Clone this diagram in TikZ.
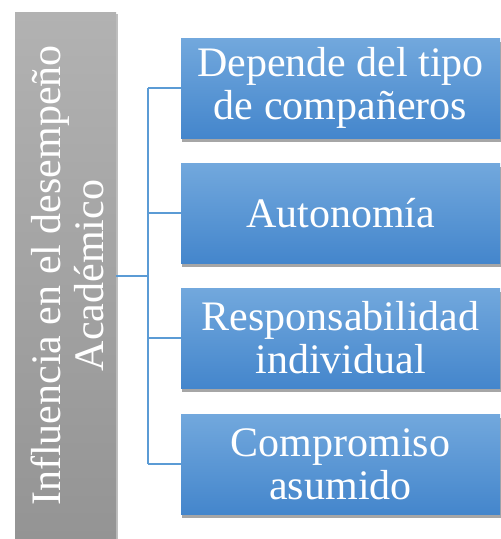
\documentclass[tikz,border=0pt]{standalone}
\usepackage{fontspec}
\setmainfont{Liberation Serif}
\usetikzlibrary{shadows}
\definecolor{boxtop}{RGB}{114,168,221}
\definecolor{boxbot}{RGB}{68,134,204}
\definecolor{linecol}{RGB}{91,155,213}
\definecolor{graytop}{RGB}{178,178,178}
\definecolor{graybot}{RGB}{148,148,148}
\tikzset{
  bluebox/.style={rectangle, minimum width=319pt, minimum height=100pt, inner sep=0pt,
    top color=boxtop, bottom color=boxbot, text=white, align=center,
    font=\fontsize{42}{43}\selectfont,
    drop shadow={shadow xshift=1pt, shadow yshift=-4pt, opacity=0.35, fill=black}},
  graybar/.style={rectangle, minimum width=101pt, minimum height=527pt, inner sep=0pt,
    top color=graytop, bottom color=graybot,
    drop shadow={shadow xshift=1.5pt, shadow yshift=-1.5pt, opacity=0.25, fill=black}},
  conn/.style={draw=linecol, line width=2pt}
}
\begin{document}
\begin{tikzpicture}[x=1pt,y=-1pt]
\useasboundingbox (0,0) rectangle (501,539);
\node[graybar] (bar) at (65.5,275.5) {};
\node[rotate=90, text=white, align=center, font=\fontsize{42}{43}\selectfont] (bartext) at (67,275.5) {Influencia en el desempeño\\Académico};
\node[bluebox] (b1) at (340.5,88) {Depende del tipo\\de compañeros};
\node[bluebox] (b2) at (340.5,213) {Autonomía};
\node[bluebox] (b3) at (340.5,338) {Responsabilidad\\individual};
\node[bluebox] (b4) at (340.5,464) {Compromiso\\asumido};
\coordinate (j) at (148,275.5);
\draw[conn] (bar.east |- j) -- (j);
\draw[conn] (j |- b1.west) -- (j |- b4.west);
\draw[conn] (j |- b1.west) -- (b1.west);
\draw[conn] (j |- b2.west) -- (b2.west);
\draw[conn] (j |- b3.west) -- (b3.west);
\draw[conn] (j |- b4.west) -- (b4.west);
\end{tikzpicture}
\end{document}
